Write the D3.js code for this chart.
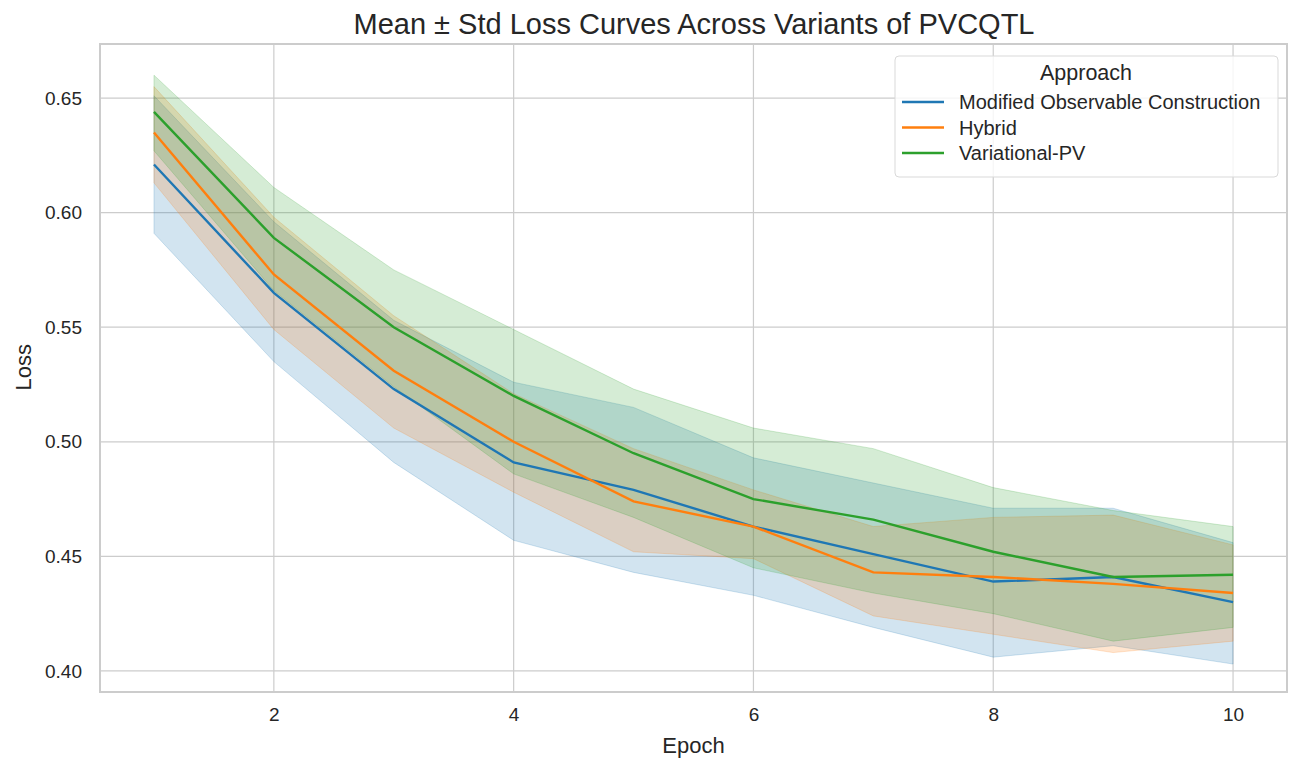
<!DOCTYPE html>
<html>
<head>
<meta charset="utf-8">
<script src="https://cdn.jsdelivr.net/npm/d3@7"></script>
<style>
  body { margin: 0; background: #fff; }
  svg { font-family: "Liberation Sans", Arial, sans-serif; }
</style>
</head>
<body>
<div class="chart"></div>
<script>
const epochs = [1, 2, 3, 4, 5, 6, 7, 8, 9, 10];
const yTicks = [0.40, 0.45, 0.50, 0.55, 0.60, 0.65];
const xTicks = [2, 4, 6, 8, 10];
const approaches = ["Modified Observable Construction", "Hybrid", "Variational-PV"];
const colors = ["#1f77b4", "#ff7f0e", "#2ca02c"];

// mean and mean +/- std per approach
const modMean = [0.621, 0.565, 0.523, 0.491, 0.479, 0.463, 0.451, 0.439, 0.441, 0.430];
const modUpper = [0.651, 0.596, 0.553, 0.526, 0.515, 0.493, 0.482, 0.471, 0.471, 0.456];
const modLower = [0.591, 0.535, 0.491, 0.457, 0.443, 0.433, 0.419, 0.406, 0.411, 0.403];

const hybMean = [0.635, 0.573, 0.531, 0.500, 0.474, 0.463, 0.443, 0.441, 0.438, 0.434];
const hybUpper = [0.655, 0.598, 0.555, 0.521, 0.497, 0.479, 0.463, 0.467, 0.468, 0.455];
const hybLower = [0.613, 0.549, 0.506, 0.478, 0.452, 0.449, 0.424, 0.416, 0.408, 0.413];

const varMean = [0.644, 0.589, 0.550, 0.520, 0.495, 0.475, 0.466, 0.452, 0.441, 0.442];
const varUpper = [0.660, 0.611, 0.575, 0.549, 0.523, 0.506, 0.497, 0.480, 0.470, 0.463];
const varLower = [0.627, 0.566, 0.524, 0.486, 0.467, 0.445, 0.434, 0.425, 0.413, 0.419];

const series = [
  { name: approaches[0], mean: modMean, upper: modUpper, lower: modLower, color: colors[0] },
  { name: approaches[1], mean: hybMean, upper: hybUpper, lower: hybLower, color: colors[1] },
  { name: approaches[2], mean: varMean, upper: varUpper, lower: varLower, color: colors[2] }
];

const width = 1290;
const height = 760;
const marginTop = 44;
const marginRight = 3;
const marginBottom = 68;
const marginLeft = 100;

const x = d3.scaleLinear()
  .domain([0.55, 10.45])
  .range([marginLeft, width - marginRight]);

const y = d3.scaleLinear()
  .domain([0.3908, 0.6736])
  .range([height - marginBottom, marginTop]);

const svg = d3.select(".chart").append("svg")
  .attr("width", width)
  .attr("height", height);

// grid
svg.append("g")
  .selectAll("line")
  .data(xTicks)
  .join("line")
  .attr("x1", d => x(d)).attr("x2", d => x(d))
  .attr("y1", marginTop).attr("y2", height - marginBottom)
  .attr("stroke", "#cccccc").attr("stroke-width", 1.2);

svg.append("g")
  .selectAll("line")
  .data(yTicks)
  .join("line")
  .attr("x1", marginLeft).attr("x2", width - marginRight)
  .attr("y1", d => y(d)).attr("y2", d => y(d))
  .attr("stroke", "#cccccc").attr("stroke-width", 1.2);

// bands
const area = d3.area()
  .x((d, i) => x(epochs[i]))
  .y0(d => y(d[0]))
  .y1(d => y(d[1]));

series.forEach(s => {
  svg.append("path")
    .datum(s.lower.map((v, i) => [v, s.upper[i]]))
    .attr("d", area)
    .attr("fill", s.color)
    .attr("fill-opacity", 0.2)
    .attr("stroke", s.color)
    .attr("stroke-opacity", 0.2)
    .attr("stroke-width", 1);
});

const line = d3.line()
  .x((d, i) => x(epochs[i]))
  .y(d => y(d));

series.forEach(s => {
  svg.append("path")
    .datum(s.mean)
    .attr("d", line)
    .attr("fill", "none")
    .attr("stroke", s.color)
    .attr("stroke-width", 2.4);
});

// frame
svg.append("rect")
  .attr("x", marginLeft).attr("y", marginTop)
  .attr("width", width - marginRight - marginLeft)
  .attr("height", height - marginBottom - marginTop)
  .attr("fill", "none")
  .attr("stroke", "#cccccc")
  .attr("stroke-width", 2);

// axes
const xAxis = svg.append("g")
  .attr("transform", `translate(0,${height - marginBottom})`)
  .call(d3.axisBottom(x).tickValues(xTicks).tickSize(0).tickPadding(16).tickFormat(d3.format("d")));
xAxis.select(".domain").remove();
xAxis.selectAll("text").attr("font-size", 19).attr("fill", "#262626")
  .attr("font-family", "Liberation Sans, Arial, sans-serif");

const yAxis = svg.append("g")
  .attr("transform", `translate(${marginLeft},0)`)
  .call(d3.axisLeft(y).tickValues(yTicks).tickSize(0).tickPadding(18).tickFormat(d3.format(".2f")));
yAxis.select(".domain").remove();
yAxis.selectAll("text").attr("font-size", 19).attr("fill", "#262626")
  .attr("font-family", "Liberation Sans, Arial, sans-serif");

// labels
svg.append("text")
  .attr("x", 694).attr("y", 34)
  .attr("text-anchor", "middle")
  .attr("font-size", 29)
  .attr("fill", "#262626")
  .text("Mean ± Std Loss Curves Across Variants of PVCQTL");

svg.append("text")
  .attr("x", x(5.5)).attr("y", 753)
  .attr("text-anchor", "middle")
  .attr("font-size", 22)
  .attr("fill", "#262626")
  .text("Epoch");

svg.append("text")
  .attr("transform", `translate(31,${y(0.5325)}) rotate(-90)`)
  .attr("text-anchor", "middle")
  .attr("font-size", 22)
  .attr("fill", "#262626")
  .text("Loss");

// legend
const legend = svg.append("g").attr("transform", "translate(895,56)");
legend.append("rect")
  .attr("width", 383).attr("height", 121)
  .attr("rx", 4)
  .attr("fill", "#ffffff").attr("fill-opacity", 0.8)
  .attr("stroke", "#d9d9d9").attr("stroke-width", 1);
legend.append("text")
  .attr("x", 191).attr("y", 24)
  .attr("text-anchor", "middle")
  .attr("font-size", 21.5)
  .attr("fill", "#262626")
  .text("Approach");

const items = legend.selectAll("g.item")
  .data(series)
  .join("g")
  .attr("class", "item")
  .attr("transform", (d, i) => `translate(0,${46 + i * 25.5})`);
items.append("line")
  .attr("x1", 7).attr("x2", 49)
  .attr("stroke", d => d.color)
  .attr("stroke-width", 2.4);
items.append("text")
  .attr("x", 64).attr("y", 7)
  .attr("font-size", 20)
  .attr("fill", "#262626")
  .text(d => d.name);
</script>
</body>
</html>
